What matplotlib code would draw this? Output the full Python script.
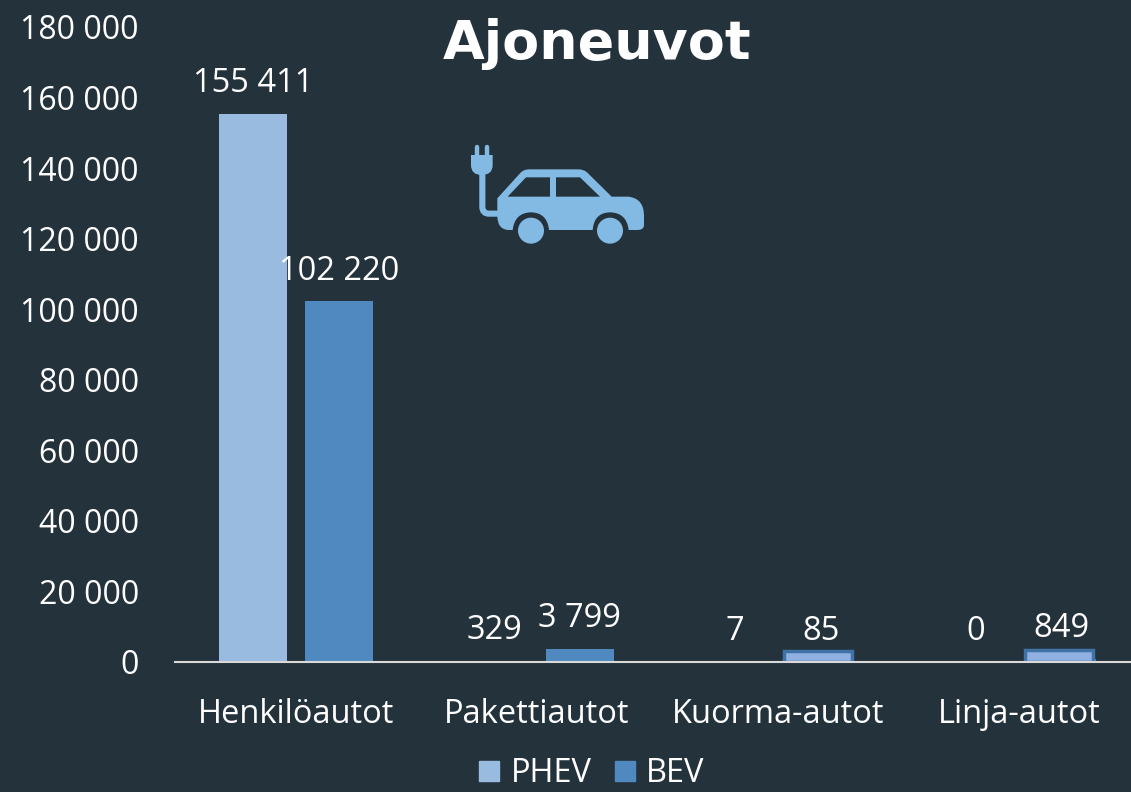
import numpy as np
import matplotlib
matplotlib.use('Agg')
import matplotlib.pyplot as plt
from matplotlib.patches import PathPatch, Circle
from matplotlib.path import Path
from matplotlib.ticker import FuncFormatter

categories = ["Henkilöautot", "Pakettiautot", "Kuorma-autot", "Linja-autot"]
phev = [155411, 329, 7, 0]
bev = [102220, 3799, 85, 849]
# the highlighted boxes sitting on the two small BEV bars, heights
boxed_cats = [2, 3]
boxed_heights = [3200, 3500]
y_ticks = [0, 20000, 40000, 60000, 80000, 100000, 120000, 140000, 160000, 180000]

BG = '#24323C'
PHEV_COL = '#9ABBE0'
BEV_COL = '#4F89BF'
ICON = '#83BAE3'
W, H = 1131, 792

plt.rcParams['font.family'] = ['Open Sans', 'DejaVu Sans']
fig = plt.figure(figsize=(W / 100, H / 100), dpi=100, facecolor=BG)

# plot area in pixels: x 175..1131, y 27..662
ax = fig.add_axes([175 / W, 1 - 662 / H, (W - 175) / W, (662 - 27) / H], facecolor=BG)
x = np.arange(len(categories))
width = 0.282
off = 0.178
ax.bar(x - off, phev, width, color=PHEV_COL)
ax.bar(x + off, bev, width, color=BEV_COL)
ax.bar(x[boxed_cats] + 0.166, boxed_heights, width, color='#8FB0E0',
       edgecolor='#3F73A8', linewidth=2.5)

ax.set_xlim(-0.502, 3.465)
ax.set_ylim(0, 180000)
ax.set_yticks(y_ticks)
ax.yaxis.set_major_formatter(FuncFormatter(lambda v, _: f"{int(v):,}".replace(",", " ")))
ax.set_xticks(x)
ax.set_xticklabels(categories)
ax.tick_params(axis='y', length=0, pad=26, labelsize=23, labelcolor='white')
ax.tick_params(axis='x', length=0, pad=26, labelsize=23.5, labelcolor='white')
for s in ['top', 'right', 'left']:
    ax.spines[s].set_visible(False)
ax.spines['bottom'].set_color('#D9D9D9')
ax.spines['bottom'].set_linewidth(1.5)

for xs, vals in ((x - off, phev), (x + off, bev)):
    for xp, v in zip(xs, vals):
        ax.annotate(f"{v:,}".replace(",", " "), (xp, v), xytext=(0, 21.8),
                    textcoords='offset points', ha='center', va='center',
                    fontsize=23.5, color='white')

fig.text(597 / W, 1 - 44 / H, "Ajoneuvot", family='DejaVu Sans', fontweight='bold',
         fontsize=38.8, color='white', ha='center', va='center')

# legend
hs = [plt.Rectangle((0, 0), 1, 1, color=PHEV_COL), plt.Rectangle((0, 0), 1, 1, color=BEV_COL)]
fig.legend(hs, ["PHEV", "BEV"], loc='center', bbox_to_anchor=(592 / W, 1 - 774 / H), ncol=2,
           frameon=False, fontsize=23.5, labelcolor='white', handlelength=0.6, handleheight=0.6,
           handletextpad=0.35, columnspacing=0.72, borderpad=0)

# car icon, drawn in pixels on an overlay
ov = fig.add_axes([0, 0, 1, 1])
ov.set_xlim(0, W)
ov.set_ylim(H, 0)
ov.axis('off')
ov.patch.set_alpha(0)


def px(zx, zy):
    return (440 + zx / 3, 130 + zy / 3)


def shape(part):
    return Path([px(*p) for p, _ in part], [c for _, c in part])


M, L, Q, Z = Path.MOVETO, Path.LINETO, Path.CURVE3, Path.CLOSEPOLY
body = [((172, 205), M), ((240, 130), L), ((250, 118), Q), ((268, 118), Q), ((415, 118), L),
        ((432, 118), Q), ((442, 128), Q), ((515, 200), L), ((565, 200), L), ((612, 205), Q),
        ((612, 258), Q), ((612, 285), L), ((612, 300), Q), ((592, 300), Q), ((566, 300), L),
        ((560, 248), Q), ((510, 247), Q), ((462, 248), Q), ((458, 300), Q), ((327, 300), L),
        ((322, 248), Q), ((273, 247), Q), ((224, 248), Q), ((218, 300), Q), ((205, 300), L),
        ((172, 298), Q), ((172, 258), Q), ((172, 205), Z)]
win1 = [((203, 200), M), ((330, 200), L), ((330, 142), L), ((258, 142), L), ((203, 200), Z)]
win2 = [((348, 200), M), ((480, 200), L), ((420, 142), L), ((348, 142), L), ((348, 200), Z)]
ov.add_patch(PathPatch(Path.make_compound_path(shape(body), shape(win1), shape(win2)),
                       fc=ICON, ec='none'))
for cx in (273, 510):
    ov.add_patch(Circle(px(cx, 302), 39 / 3, fc=ICON, ec='none'))

# plug and cable
cable = Path([px(175, 251), px(147, 251), px(127, 251), px(127, 230), px(127, 125)], [M, L, Q, Q, L])
ov.add_patch(PathPatch(cable, fc='none', ec=ICON, lw=4.4))
head = [((93, 75), M), ((158, 75), L), ((158, 105), L), ((158, 135), Q), ((125, 135), Q),
        ((93, 135), Q), ((93, 105), Q), ((93, 75), Z)]
ov.add_patch(PathPatch(shape(head), fc=ICON, ec='none'))
for zx in (110, 140):
    ov.plot(*zip(px(zx, 50), px(zx, 78)), color=ICON, lw=3.2, solid_capstyle='round')

fig.savefig('out.png', dpi=100, facecolor=BG)
